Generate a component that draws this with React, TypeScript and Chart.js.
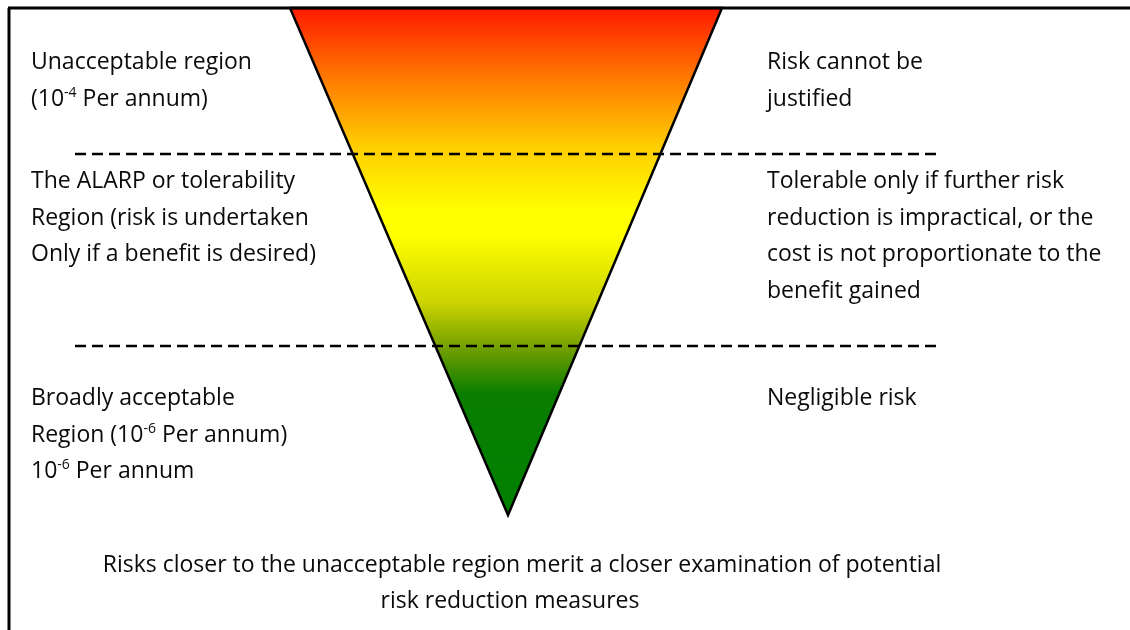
import React, { useEffect, useRef } from "react";
import { Chart, registerables } from "chart.js";

Chart.register(...registerables);

// ---- Data (diagram coordinates: x 0..1130, y 0..630 downward) ----
const triangleX = [290, 722, 508, 290];
const triangleY = [8, 8, 515, 8];
const thresholdLevels = [154, 346];
const thresholdSpan = [75, 940];
const frameTopX = [8, 1130];
const frameTopY = [8, 8];
const frameLeftX = [9, 9];
const frameLeftY = [8, 640];

const leftLabels = [
  ["Unacceptable region", "(10^{-4} Per annum)"],
  ["The ALARP or tolerability", "Region (risk is undertaken", "Only if a benefit is desired)"],
  ["Broadly acceptable", "Region (10^{-6} Per annum)", "10^{-6} Per annum"],
];
const rightLabels = [
  ["Risk cannot be", "justified"],
  ["Tolerable only if further risk", "reduction is impractical, or the", "cost is not proportionate to the", "benefit gained"],
  ["Negligible risk"],
];
const footerLines = [
  "Risks closer to the unacceptable region merit a closer examination of potential",
  "risk reduction measures",
];

// gradient stops: [fraction from top of triangle to apex, colour]
const gradientStops: [number, string][] = [
  [0, "#ff1a00"],
  [0.14, "#ff7a00"],
  [0.27, "#ffcc00"],
  [0.4, "#ffff00"],
  [0.45, "#ffff00"],
  [0.58, "#ccd400"],
  [0.67, "#73a000"],
  [0.76, "#0a7d00"],
  [1, "#008000"],
];

// layout
const LEFT_X = 31;
const RIGHT_X = 767;
const blockBaselines = [69, 188, 405];
const LINE_H = 36.5;
const footerCenters = [522, 510];
const footerBaselines = [572, 608];
const FONT_FAMILY = "'Open Sans', Lato, sans-serif";
const FONT_SIZE = 23;
const SUP_SIZE = 14;

function drawRich(ctx: CanvasRenderingContext2D, str: string, x: number, y: number, align: "left" | "center") {
  const parts = str.split(/\^\{([^}]*)\}/);
  const segs: { t: string; sup: boolean }[] = parts.map((t, i) => ({ t, sup: i % 2 === 1 }));
  const font = (sup: boolean) => `${sup ? SUP_SIZE : FONT_SIZE}px ${FONT_FAMILY}`;
  let total = 0;
  for (const s of segs) {
    ctx.font = font(s.sup);
    total += ctx.measureText(s.t).width;
  }
  let cx = align === "center" ? x - total / 2 : x;
  for (const s of segs) {
    ctx.font = font(s.sup);
    ctx.fillText(s.t, cx, s.sup ? y - 9 : y);
    cx += ctx.measureText(s.t).width;
  }
}

const labelPlugin = {
  id: "alarpLabels",
  afterDatasetsDraw(chart: any) {
    const { ctx, scales } = chart;
    const xs = scales.x;
    const ys = scales.y;
    ctx.save();
    ctx.fillStyle = "#0a0a0a";
    ctx.textBaseline = "alphabetic";
    ctx.textAlign = "left";
    const drawBlocks = (blocks: string[][], x: number) => {
      blocks.forEach((lines, bi) => {
        lines.forEach((line, li) => {
          const px = xs.getPixelForValue(x);
          const py = ys.getPixelForValue(blockBaselines[bi] + li * LINE_H);
          drawRich(ctx, line, px, py, "left");
        });
      });
    };
    drawBlocks(leftLabels, LEFT_X);
    drawBlocks(rightLabels, RIGHT_X);
    footerLines.forEach((line, i) => {
      drawRich(ctx, line, xs.getPixelForValue(footerCenters[i]), ys.getPixelForValue(footerBaselines[i]), "center");
    });
    ctx.restore();
  },
};

const zip = (xs: number[], ys: number[]) => xs.map((x, i) => ({ x, y: ys[i] }));

export default function App() {
  const ref = useRef<HTMLCanvasElement | null>(null);
  useEffect(() => {
    if (!ref.current) return;
    const thresholdSets = thresholdLevels.map((lvl) => ({
      data: zip(thresholdSpan, [lvl, lvl]),
      borderColor: "#000000",
      borderWidth: 2.5,
      borderDash: [11, 6],
      pointRadius: 0,
      fill: false,
      order: 0,
    }));
    const chart = new Chart(ref.current, {
      type: "line",
      data: {
        datasets: [
          {
            data: zip(triangleX, triangleY),
            borderColor: "#000000",
            borderWidth: 2.5,
            pointRadius: 0,
            fill: "shape" as any,
            tension: 0,
            order: 2,
            backgroundColor: (c: any) => {
              const ch = c.chart;
              const ys = ch.scales && ch.scales.y;
              if (!ys || !ch.chartArea) return "#ffff00";
              const top = ys.getPixelForValue(triangleY[0]);
              const bottom = ys.getPixelForValue(triangleY[2]);
              if (!isFinite(top) || !isFinite(bottom) || top === bottom) return "#ffff00";
              const g = ch.ctx.createLinearGradient(0, top, 0, bottom);
              gradientStops.forEach(([f, col]) => g.addColorStop(f, col));
              return g;
            },
          },
          ...thresholdSets,
          {
            data: zip(frameTopX, frameTopY),
            borderColor: "#000000",
            borderWidth: 3,
            pointRadius: 0,
            fill: false,
            order: 0,
          },
          {
            data: zip(frameLeftX, frameLeftY),
            borderColor: "#000000",
            borderWidth: 3,
            pointRadius: 0,
            fill: false,
            order: 0,
          },
        ],
      },
      options: {
        animation: false,
        responsive: false,
        maintainAspectRatio: false,
        layout: { padding: 0 },
        plugins: { legend: { display: false }, tooltip: { enabled: false } },
        events: [],
        scales: {
          x: { type: "linear", min: 0, max: 1130, display: false },
          y: { type: "linear", min: 0, max: 630, reverse: true, display: false },
        },
      },
      plugins: [labelPlugin],
    });
    return () => chart.destroy();
  }, []);
  return (
    <div style={{ position: "absolute", left: 0, top: 0, width: 1130, height: 630, background: "#ffffff" }}>
      <canvas ref={ref} width={1130} height={630} style={{ display: "block" }} />
    </div>
  );
}
